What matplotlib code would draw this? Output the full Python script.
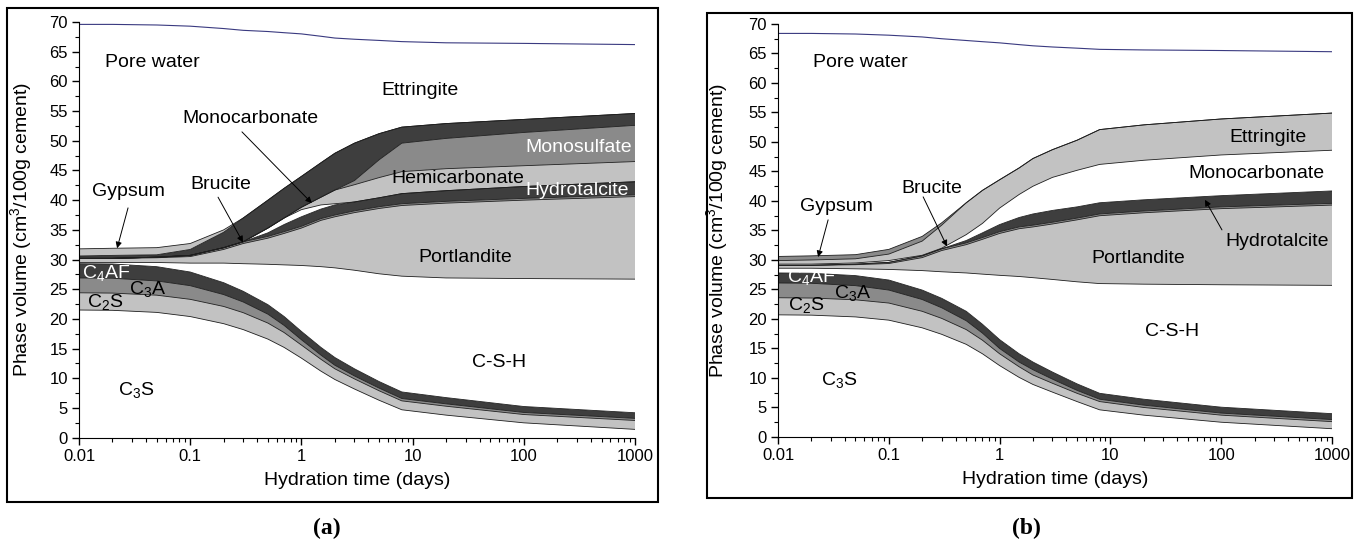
import matplotlib
matplotlib.use('Agg')
import matplotlib.pyplot as plt
from matplotlib.patches import Rectangle
from matplotlib.ticker import MultipleLocator, LogLocator, FuncFormatter, NullFormatter
import numpy as np

plt.rcParams['font.family'] = ['Liberation Sans', 'DejaVu Sans']
plt.rcParams['mathtext.default'] = 'regular'

# hydration time (days)
days = [0.01, 0.02, 0.05, 0.1, 0.2, 0.3, 0.5, 0.7, 1, 1.5, 2, 3, 5, 8, 20, 100, 1000]

# panel (a): upper edge of each phase (cumulative phase volume, cm3/100g cement)
a_c3s = [21.5, 21.45, 21.1, 20.4, 19.2, 18.2, 16.6, 15.2, 13.4, 11.2, 9.8, 8.2, 6.3, 4.7, 3.8, 2.5, 1.4]
a_c2s = [24.4, 24.35, 24.0, 23.3, 22.1, 21.05, 19.3, 17.7, 15.6, 13.2, 11.6, 9.9, 7.9, 6.2, 5.3, 3.9, 2.9]
a_c3a = [26.9, 26.85, 26.4, 25.6, 24.1, 22.85, 20.8, 18.9, 16.5, 13.9, 12.2, 10.4, 8.35, 6.6, 5.7, 4.25, 3.25]
a_c4af = [29.3, 29.25, 28.8, 27.9, 26.1, 24.65, 22.4, 20.4, 17.9, 15.2, 13.5, 11.6, 9.45, 7.7, 6.75, 5.25, 4.2]
a_csh = [29.5, 29.5, 29.5, 29.4, 29.4, 29.3, 29.2, 29.1, 29.0, 28.8, 28.6, 28.2, 27.6, 27.2, 26.9, 26.8, 26.7]
a_portlandite = [30.2, 30.2, 30.3, 30.5, 31.7, 32.7, 33.6, 34.4, 35.3, 36.6, 37.2, 37.9, 38.6, 39.1, 39.5, 40.0, 40.6]
a_brucite = [30.2, 30.2, 30.4, 30.7, 32.0, 33.0, 33.9, 34.7, 35.6, 36.9, 37.5, 38.2, 38.9, 39.4, 39.8, 40.3, 40.9]
a_hydrotalcite = [30.2, 30.2, 30.4, 30.7, 32.0, 33.0, 34.5, 35.9, 37.2, 38.5, 39.2, 39.7, 40.4, 41.1, 41.6, 42.3, 43.1]
a_monocarbonate = [30.2, 30.2, 30.4, 30.7, 32.0, 33.0, 35.3, 37.0, 38.4, 39.2, 39.4, 39.7, 40.4, 41.1, 41.6, 42.3, 43.1]
a_hemicarbonate = [30.2, 30.2, 30.4, 30.7, 32.0, 33.0, 35.3, 37.0, 38.8, 40.5, 41.7, 42.6, 43.8, 44.8, 45.3, 45.8, 46.5]
a_monosulfate = [30.2, 30.2, 30.4, 30.7, 32.0, 33.0, 35.3, 37.0, 38.8, 40.5, 41.7, 43.3, 46.8, 49.6, 50.4, 51.4, 52.6]
a_ettringite = [30.6, 30.7, 30.8, 31.7, 34.6, 37.0, 40.0, 42.0, 44.0, 46.3, 47.9, 49.6, 51.2, 52.3, 52.9, 53.6, 54.6]
a_gypsum = [31.8, 31.9, 32.0, 32.7, 35.0, 37.0, 40.0, 42.0, 44.0, 46.3, 47.9, 49.6, 51.2, 52.3, 52.9, 53.6, 54.6]
a_pore_water = [69.6, 69.6, 69.5, 69.3, 68.9, 68.6, 68.4, 68.2, 68.0, 67.6, 67.3, 67.1, 66.9, 66.7, 66.5, 66.4, 66.2]

# panel (b)
b_c3s = [20.7, 20.65, 20.35, 19.8, 18.5, 17.4, 15.7, 14.1, 12.1, 10.1, 8.9, 7.6, 6.0, 4.6, 3.7, 2.5, 1.4]
b_c2s = [23.6, 23.55, 23.25, 22.7, 21.3, 20.1, 18.2, 16.4, 14.1, 11.9, 10.5, 9.1, 7.4, 6.0, 5.0, 3.7, 2.6]
b_c3a = [26.1, 26.05, 25.65, 24.9, 23.3, 21.9, 19.7, 17.6, 15.0, 12.7, 11.4, 9.8, 7.9, 6.4, 5.4, 4.05, 2.95]
b_c4af = [27.8, 27.75, 27.35, 26.6, 24.9, 23.5, 21.3, 19.1, 16.5, 14.1, 12.7, 11.0, 9.0, 7.4, 6.4, 5.05, 3.95]
b_csh = [28.6, 28.6, 28.5, 28.4, 28.2, 28.0, 27.8, 27.6, 27.4, 27.2, 27.0, 26.7, 26.3, 26.0, 25.9, 25.8, 25.7]
b_portlandite = [29.1, 29.1, 29.2, 29.4, 30.4, 31.6, 32.6, 33.5, 34.5, 35.3, 35.6, 36.1, 36.8, 37.5, 38.0, 38.7, 39.3]
b_brucite = [29.1, 29.1, 29.3, 29.6, 30.7, 31.9, 32.9, 33.8, 34.8, 35.6, 35.9, 36.4, 37.1, 37.8, 38.3, 39.0, 39.6]
b_hydrotalcite = [29.1, 29.1, 29.3, 29.6, 30.7, 31.9, 33.3, 34.6, 36.0, 37.2, 37.8, 38.4, 39.0, 39.7, 40.2, 40.9, 41.7]
b_monocarbonate = [29.3, 29.3, 29.5, 29.9, 30.8, 32.0, 34.3, 36.2, 38.8, 41.1, 42.5, 44.0, 45.2, 46.2, 46.9, 47.8, 48.6]
b_ettringite = [29.9, 30.0, 30.2, 31.0, 33.2, 35.9, 39.7, 41.8, 43.6, 45.6, 47.2, 48.7, 50.3, 52.1, 52.9, 53.9, 54.9]
b_gypsum = [30.6, 30.7, 30.9, 31.8, 34.0, 36.3, 39.7, 41.8, 43.6, 45.6, 47.2, 48.7, 50.3, 52.1, 52.9, 53.9, 54.9]
b_pore_water = [68.4, 68.4, 68.3, 68.1, 67.8, 67.5, 67.2, 67.0, 66.8, 66.5, 66.3, 66.1, 65.9, 65.7, 65.6, 65.5, 65.3]

WHITE = 'white'
LIGHT = '#c2c2c2'
MID = '#8a8a8a'
DARK = '#3e3e3e'

layers_a = [(a_c3s, WHITE), (a_c2s, LIGHT), (a_c3a, MID), (a_c4af, DARK), (a_csh, WHITE),
            (a_portlandite, LIGHT), (a_brucite, MID), (a_hydrotalcite, DARK),
            (a_monocarbonate, WHITE), (a_hemicarbonate, LIGHT), (a_monosulfate, MID),
            (a_ettringite, DARK), (a_gypsum, LIGHT)]
layers_b = [(b_c3s, WHITE), (b_c2s, LIGHT), (b_c3a, MID), (b_c4af, DARK), (b_csh, WHITE),
            (b_portlandite, LIGHT), (b_brucite, MID), (b_hydrotalcite, DARK),
            (b_monocarbonate, WHITE), (b_ettringite, LIGHT), (b_gypsum, MID)]


def draw_panel(ax, layers, pore):
    lower = np.zeros(len(days))
    for top, colour in layers:
        top = np.asarray(top)
        ax.fill_between(days, lower, top, facecolor=colour, edgecolor='none', lw=0)
        lower = top
    for top, colour in layers:
        ax.plot(days, top, color='#1e1e1e', lw=0.6)
    ax.plot(days, pore, color='#3a3a80', lw=0.8)

    ax.set_xscale('log')
    ax.set_xlim(0.01, 1000)
    ax.set_ylim(0, 70)
    ax.spines['top'].set_visible(False)
    ax.spines['right'].set_visible(False)
    ax.xaxis.set_major_locator(LogLocator(base=10))
    ax.xaxis.set_minor_locator(LogLocator(base=10, subs=np.arange(2, 10)))
    ax.xaxis.set_major_formatter(FuncFormatter(lambda v, p: '%g' % v))
    ax.xaxis.set_minor_formatter(NullFormatter())
    ax.yaxis.set_major_locator(MultipleLocator(5))
    ax.yaxis.set_minor_locator(MultipleLocator(2.5))
    ax.tick_params(which='major', direction='out', length=5, width=1, labelsize=12, pad=3)
    ax.tick_params(which='minor', direction='out', length=3, width=0.8)
    ax.set_xlabel('Hydration time (days)', fontsize=14, labelpad=6)


def label(ax, x, y, s, colour='black'):
    ax.text(x, y, s, ha='center', va='center', fontsize=14, color=colour)


def arrow(ax, start, tip):
    ax.annotate('', xy=tip, xytext=start,
                arrowprops=dict(arrowstyle='-|>', color='black', lw=0.7,
                                mutation_scale=9, shrinkA=0, shrinkB=0))


fig = plt.figure(figsize=(13.6, 5.45), dpi=100)
ax_a = fig.add_axes([0.0581, 0.1969, 0.4088, 0.7627])
ax_b = fig.add_axes([0.5721, 0.1982, 0.4073, 0.7578])

# ---- panel (a)
draw_panel(ax_a, layers_a, a_pore_water)
ax_a.set_ylabel('Phase volume (cm$^3$/100g cement)', fontsize=14, labelpad=11)
label(ax_a, 0.046, 63.2, 'Pore water')
label(ax_a, 0.0276, 41.4, 'Gypsum')
label(ax_a, 0.189, 42.7, 'Brucite')
label(ax_a, 0.345, 53.8, 'Monocarbonate')
label(ax_a, 11.7, 58.5, 'Ettringite')
label(ax_a, 314, 48.9, 'Monosulfate', 'white')
label(ax_a, 25.6, 43.7, 'Hemicarbonate')
label(ax_a, 304, 41.7, 'Hydrotalcite', 'white')
label(ax_a, 29.5, 30.4, 'Portlandite')
label(ax_a, 60, 12.7, 'C-S-H')
label(ax_a, 0.0175, 27.7, 'C$_4$AF', 'white')
label(ax_a, 0.0418, 25.0, 'C$_3$A')
label(ax_a, 0.0172, 22.8, 'C$_2$S')
label(ax_a, 0.0326, 8.0, 'C$_3$S')
arrow(ax_a, (0.0276, 38.7), (0.0220, 31.9))
arrow(ax_a, (0.178, 40.5), (0.298, 32.9))
arrow(ax_a, (0.292, 51.5), (1.24, 39.5))

# ---- panel (b)
draw_panel(ax_b, layers_b, b_pore_water)
ax_b.set_ylabel('Phase volume (cm$^3$/100g cement)', fontsize=14, labelpad=13)
label(ax_b, 0.055, 63.4, 'Pore water')
label(ax_b, 0.034, 39.0, 'Gypsum')
label(ax_b, 0.245, 42.1, 'Brucite')
label(ax_b, 264, 50.8, 'Ettringite')
label(ax_b, 206, 44.7, 'Monocarbonate')
label(ax_b, 318, 33.1, 'Hydrotalcite')
label(ax_b, 17.8, 30.3, 'Portlandite')
label(ax_b, 36, 17.8, 'C-S-H')
label(ax_b, 0.020, 27.1, 'C$_4$AF', 'white')
label(ax_b, 0.047, 24.4, 'C$_3$A')
label(ax_b, 0.018, 22.4, 'C$_2$S')
label(ax_b, 0.036, 9.7, 'C$_3$S')
arrow(ax_b, (0.0283, 36.8), (0.0230, 30.5))
arrow(ax_b, (0.204, 40.7), (0.335, 32.3))
arrow(ax_b, (101.6, 35.1), (71.4, 40.2))

# frames round each panel and panel letters
fig.patches.append(Rectangle((0.0051, 0.0789), 0.4787, 0.9064, transform=fig.transFigure,
                             fill=False, edgecolor='black', lw=1.5))
fig.patches.append(Rectangle((0.5199, 0.0862), 0.4742, 0.8899, transform=fig.transFigure,
                             fill=False, edgecolor='black', lw=1.5))
fig.text(0.2404, 0.030, '(a)', ha='center', va='center', fontsize=17,
         family=['Liberation Serif', 'DejaVu Serif'], weight='bold')
fig.text(0.7551, 0.030, '(b)', ha='center', va='center', fontsize=17,
         family=['Liberation Serif', 'DejaVu Serif'], weight='bold')

fig.savefig('out.png', dpi=100)
